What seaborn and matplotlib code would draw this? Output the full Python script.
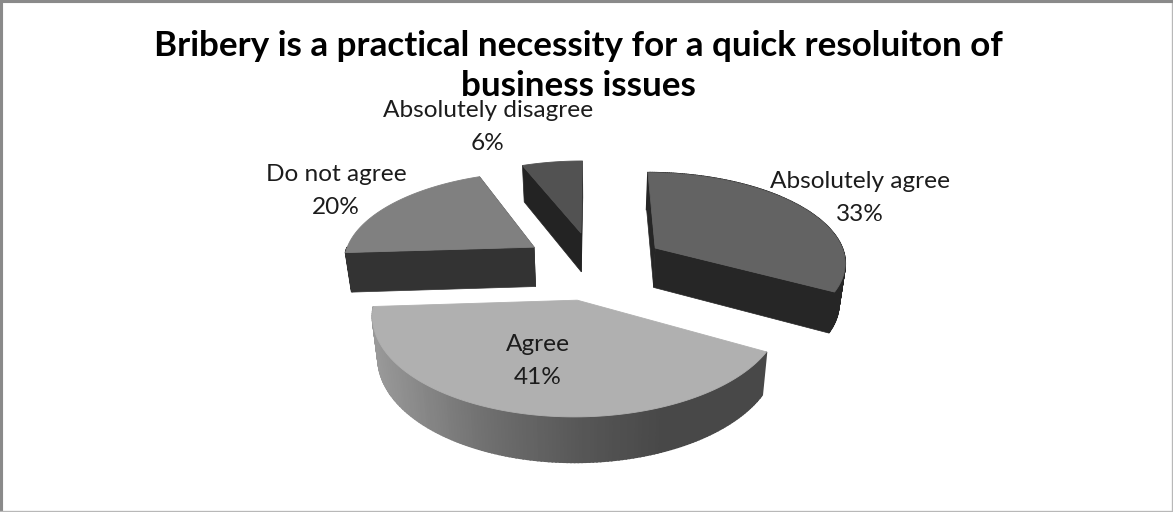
import numpy as np
import matplotlib
matplotlib.use("Agg")
import matplotlib.pyplot as plt
import seaborn as sns

# Survey shares, clockwise from twelve o'clock
categories = ["Absolutely agree", "Agree", "Do not agree", "Absolutely disagree"]
shares = [33, 41, 20, 6]
title_lines = ["Bribery is a practical necessity for a quick resoluiton of",
               "business issues"]

# Slice styling, in the same order as the categories
top_colors = ["#636363", "#b0b0b0", "#808080", "#525252"]
wall_colors = ["#262626", None, "#333333", "#232323"]
label_centers = [(860, 198), (538, 361), (336, 191), (488, 127)]

# Camera used to project the exploded disc onto the canvas
CX, CY = 594, 265
RX, RY = 192, 90
PERSPECTIVE = 0.137
EXPLODE = 0.38
THICKNESS = 40
BOTTOM_SCALE = 0.975

sns.set_theme(style="white")
plt.rcParams["font.family"] = ["Lato", "DejaVu Sans"]


def project(u, v, z=0.0):
    """Map disc coordinates (u right, v toward viewer, z down) to canvas pixels."""
    den = 1 - PERSPECTIVE * np.asarray(v)
    scale = 1 - (1 - BOTTOM_SCALE) * z
    return (CX + RX * scale * np.asarray(u) / den,
            CY + (RY * scale * np.asarray(v) + THICKNESS * z) / den)


def rim(theta, off_u, off_v):
    """Disc coordinates of rim points at clockwise angle theta (radians)."""
    return off_u + np.sin(theta), off_v - np.cos(theta)


fig = plt.figure(figsize=(11.73, 5.12), dpi=100, facecolor="white")
ax = fig.add_axes([0, 0, 1, 1])
ax.set_xlim(0, 1173)
ax.set_ylim(512, 0)
ax.set_xticks([])
ax.set_yticks([])

edges = np.radians(np.concatenate([[0], np.cumsum(shares)]) / sum(shares) * 360)
gradient = sns.blend_palette(["#999999", "#6c6c6c", "#484848", "#484848"], 256)

# Far slices first so that nearer ones overlap them
for i in [3, 0, 2, 1]:
    start, end = edges[i], edges[i + 1]
    mid = (start + end) / 2
    off_u, off_v = EXPLODE * np.sin(mid), -EXPLODE * np.cos(mid)
    theta = np.linspace(start, end, 160)
    ru, rv = rim(theta, off_u, off_v)
    wall = wall_colors[i] or "#484848"

    # Flat cut faces running from the apex to each end of the arc;
    # the near slice faces away from the viewer, so it has none to show
    if wall_colors[i] is not None:
        for k in (0, -1):
            xs_t, ys_t = project(np.array([off_u, ru[k]]), np.array([off_v, rv[k]]))
            xs_b, ys_b = project(np.array([off_u, ru[k]]), np.array([off_v, rv[k]]), 1.0)
            ax.fill(np.r_[xs_t, xs_b[::-1]], np.r_[ys_t, ys_b[::-1]],
                    color=wall, lw=0.5, zorder=i + 1)

    # Curved outer wall, split into short strips so it can carry a gradient
    xt, yt = project(ru, rv)
    xb, yb = project(ru, rv, 1.0)
    for j in range(len(theta) - 1):
        if wall_colors[i] is None:
            pos = np.interp((xt[j] + xt[j + 1]) / 2, [373, 480, 590, 665, 767],
                            [0, 0.3, 0.55, 0.67, 1])
            shade = gradient[int(pos * 255)]
        elif rv[j] < off_v and i != 0:
            continue
        else:
            shade = wall
        ax.fill([xt[j], xt[j + 1], xb[j + 1], xb[j]],
                [yt[j], yt[j + 1], yb[j + 1], yb[j]],
                color=shade, lw=1.2, zorder=i + 1)

    # Top surface
    ax_, ay_ = project(off_u, off_v)
    ax.fill(np.r_[ax_, xt], np.r_[ay_, yt], color=top_colors[i], lw=0.6, zorder=i + 1.5)

for name, share, (lx, ly) in zip(categories, shares, label_centers):
    ax.text(lx, ly, f"{name}\n{share}%", ha="center", va="center", fontsize=17.6,
            color="#1c1c1c", linespacing=1.65, zorder=10)

ax.text(578, 46, title_lines[0], ha="center", va="center", fontsize=25.2,
        fontweight="bold", color="black", zorder=11)
ax.text(578, 86, title_lines[1], ha="center", va="center", fontsize=25.2,
        fontweight="bold", color="black", zorder=11)

# Frame: heavier on the top and left edges
for side, color, width in [("top", "#8a8a8a", 4.4), ("left", "#8a8a8a", 4.4),
                           ("right", "#b8b8b8", 2.4), ("bottom", "#b8b8b8", 2.4)]:
    ax.spines[side].set_visible(True)
    ax.spines[side].set_color(color)
    ax.spines[side].set_linewidth(width)

fig.savefig("out.png", dpi=100, facecolor="white")
